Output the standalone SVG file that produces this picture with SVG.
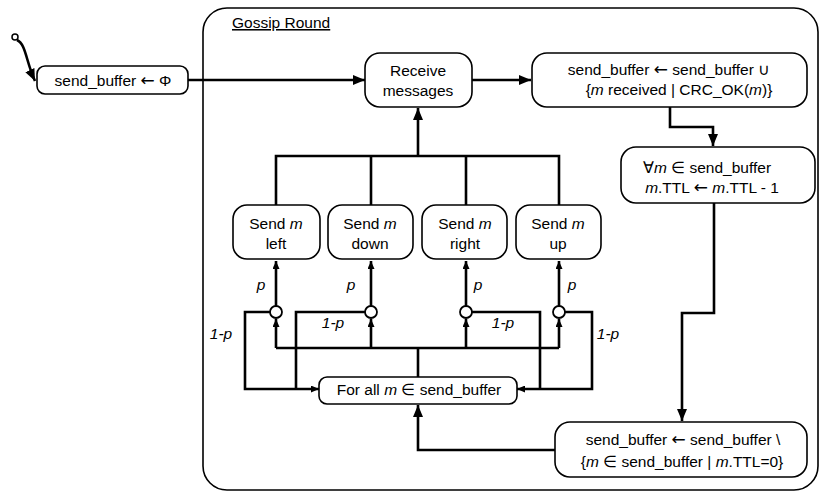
<svg xmlns="http://www.w3.org/2000/svg" width="822" height="493" viewBox="0 0 822 493">
<style>
.box{fill:#fff;stroke:#000;stroke-width:1.6}
.t{font-family:"Liberation Sans",Arial,sans-serif;font-size:15.5px;fill:#000;text-anchor:middle}
.lbl{font-family:"Liberation Sans",Arial,sans-serif;font-size:15.5px;fill:#000;font-style:italic;text-anchor:middle}
.sym{font-family:"Noto Sans","DejaVu Sans",sans-serif;font-size:17px}
.c{fill:none;stroke:#000;stroke-width:2.6;stroke-linejoin:miter}
.ci{fill:#fff;stroke:#000;stroke-width:1.8}
</style>
<defs>
<marker id="big" markerUnits="userSpaceOnUse" viewBox="0 0 12 10" refX="12" refY="5" markerWidth="12" markerHeight="10" orient="auto">
<path d="M0,0 L12,5 L0,10 z" fill="#000"/>
</marker>
<marker id="small" markerUnits="userSpaceOnUse" viewBox="0 0 8 7" refX="8" refY="3.5" markerWidth="8" markerHeight="7" orient="auto">
<path d="M0,0 L8,3.5 L0,7 z" fill="#000"/>
</marker>
</defs>
<rect width="822" height="493" fill="#fff"/>
<g id="gossip-round">
<rect x="203" y="8" width="615" height="482" rx="24" fill="none" stroke="#000" stroke-width="1.6"/>
<text x="232" y="28" style="font-family:'Liberation Sans',Arial,sans-serif;font-size:15.5px;text-decoration:underline">Gossip Round</text>
</g>
<g id="connectors">
<path class="c" d="M17,40 C26,44 26,62 35,81" stroke-width="2.2" marker-end="url(#big)"/>
<path class="c" d="M188,80 L365,80" marker-end="url(#big)"/>
<path class="c" d="M472,80 L531,80" marker-end="url(#big)"/>
<path class="c" d="M670,107 L670,127 L713,127 L713,146" marker-end="url(#big)"/>
<path class="c" d="M714,203 L714,313 L682,313 L682,421" marker-end="url(#big)"/>
<path class="c" d="M555,450 L418,450 L418,405" marker-end="url(#big)"/>
<path class="c" d="M418,377 L418,348"/>
<path class="c" d="M276,348 L559,348"/>
<path class="c" d="M276,348 L276,319" marker-end="url(#small)"/>
<path class="c" d="M371,348 L371,319" marker-end="url(#small)"/>
<path class="c" d="M466,348 L466,319" marker-end="url(#small)"/>
<path class="c" d="M559,348 L559,319" marker-end="url(#small)"/>
<path class="c" d="M276,306 L276,261" marker-end="url(#small)"/>
<path class="c" d="M371,306 L371,261" marker-end="url(#small)"/>
<path class="c" d="M466,306 L466,261" marker-end="url(#small)"/>
<path class="c" d="M559,306 L559,261" marker-end="url(#small)"/>
<path class="c" d="M276,205 L276,156 L559,156 L559,205"/>
<path class="c" d="M371,205 L371,156"/>
<path class="c" d="M466,205 L466,156"/>
<path class="c" d="M418,156 L418,108" marker-end="url(#big)"/>
<path class="c" d="M270,312 L245,312 L245,389 L319,389" marker-end="url(#small)"/>
<path class="c" d="M365,312 L296,312 L296,389"/>
<path class="c" d="M472,312 L540,312 L540,389"/>
<path class="c" d="M565,312 L592,312 L592,389 L517,389" marker-end="url(#small)"/>
</g>
<g id="start">
<circle cx="15" cy="37" r="3" fill="#fff" stroke="#000" stroke-width="1.5"/>
</g>
<g id="init">
<rect class="box" x="37" y="66" width="151" height="28" rx="8"/>
<text class="t" x="113" y="86">send_buffer <tspan class="sym">←</tspan> Φ</text>
</g>
<g id="receive">
<rect class="box" x="365" y="53" width="107" height="54" rx="15"/>
<text class="t" x="418" y="76">Receive</text>
<text class="t" x="418" y="96">messages</text>
</g>
<g id="union">
<rect class="box" x="532" y="53" width="275" height="54" rx="15"/>
<text class="t" x="669" y="75">send_buffer <tspan class="sym">←</tspan> send_buffer ∪</text>
<text class="t" x="679" y="95">{<tspan font-style="italic">m</tspan> received | CRC_OK(<tspan font-style="italic">m</tspan>)}</text>
</g>
<g id="decrement">
<rect class="box" x="621" y="147" width="194" height="56" rx="15"/>
<text class="t" x="707" y="173">∀<tspan font-style="italic">m</tspan> ∈ send_buffer</text>
<text class="t" x="712" y="193"><tspan font-style="italic">m</tspan>.TTL <tspan class="sym">←</tspan> <tspan font-style="italic">m</tspan>.TTL - 1</text>
</g>
<g id="remove">
<rect class="box" x="555" y="422" width="252" height="55" rx="15"/>
<text class="t" x="683" y="445">send_buffer <tspan class="sym">←</tspan> send_buffer \</text>
<text class="t" x="682" y="467">{<tspan font-style="italic">m</tspan> ∈ send_buffer | <tspan font-style="italic">m</tspan>.TTL=0}</text>
</g>
<g id="forall">
<rect class="box" x="319" y="377" width="198" height="27" rx="8"/>
<text class="t" x="419" y="395">For all <tspan font-style="italic">m</tspan> ∈ send_buffer</text>
</g>
<g id="send-left">
<rect class="box" x="233" y="205" width="87" height="54" rx="14"/>
<text class="t" x="276" y="229">Send <tspan font-style="italic">m</tspan></text>
<text class="t" x="276" y="249">left</text>
</g>
<g id="send-down">
<rect class="box" x="328" y="205" width="85" height="54" rx="14"/>
<text class="t" x="370" y="229">Send <tspan font-style="italic">m</tspan></text>
<text class="t" x="370" y="249">down</text>
</g>
<g id="send-right">
<rect class="box" x="422" y="205" width="85" height="54" rx="14"/>
<text class="t" x="465" y="229">Send <tspan font-style="italic">m</tspan></text>
<text class="t" x="465" y="249">right</text>
</g>
<g id="send-up">
<rect class="box" x="516" y="205" width="85" height="54" rx="14"/>
<text class="t" x="558" y="229">Send <tspan font-style="italic">m</tspan></text>
<text class="t" x="558" y="249">up</text>
</g>
<g id="choice-left"><circle class="ci" cx="276" cy="312" r="6"/></g>
<g id="choice-down"><circle class="ci" cx="371" cy="312" r="6"/></g>
<g id="choice-right"><circle class="ci" cx="466" cy="312" r="6"/></g>
<g id="choice-up"><circle class="ci" cx="559" cy="312" r="6"/></g>
<g id="labels">
<text class="lbl" x="261" y="290">p</text>
<text class="lbl" x="351" y="290">p</text>
<text class="lbl" x="478" y="290">p</text>
<text class="lbl" x="572" y="290">p</text>
<text class="lbl" x="221" y="339">1-p</text>
<text class="lbl" x="333" y="328">1-p</text>
<text class="lbl" x="503" y="328">1-p</text>
<text class="lbl" x="608" y="339">1-p</text>
</g>
</svg>
